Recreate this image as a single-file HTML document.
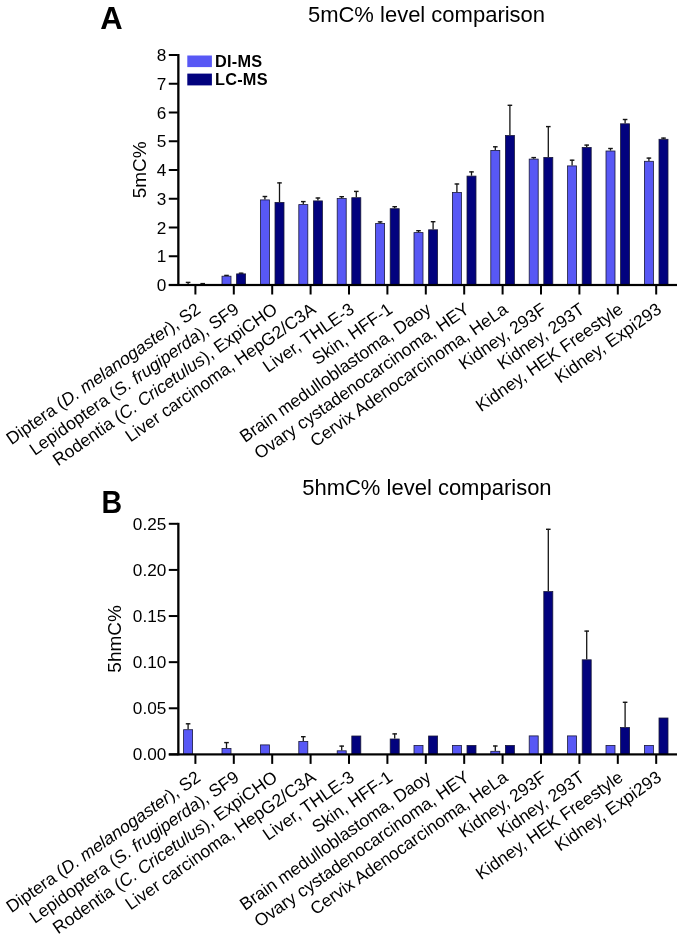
<!DOCTYPE html>
<html><head><meta charset="utf-8"><style>
html,body{margin:0;padding:0;background:#fff;overflow:hidden;width:683px;height:939px;}
svg{display:block;font-family:"Liberation Sans",sans-serif;will-change:transform;}
</style></head><body>
<svg width="683" height="939" viewBox="0 0 683 939">
<rect width="683" height="939" fill="#fff"/>
<text x="100.20" y="28.70" font-size="31" text-anchor="start" font-weight="bold" >A</text>
<text x="426.50" y="21.70" font-size="22" text-anchor="middle" font-weight="normal" >5mC% level comparison</text>
<rect x="187.45" y="282.00" width="1.30" height="3.00" fill="#151515" />
<rect x="185.80" y="281.70" width="4.60" height="1.40" fill="#151515" />
<rect x="202.05" y="283.20" width="1.30" height="1.80" fill="#151515" />
<rect x="200.40" y="282.90" width="4.60" height="1.40" fill="#151515" />
<rect x="225.85" y="275.00" width="1.30" height="0.80" fill="#151515" />
<rect x="224.20" y="274.70" width="4.60" height="1.40" fill="#151515" />
<rect x="222.00" y="276.20" width="9.00" height="8.80" fill="#5858F5" stroke="#1a1a3a" stroke-width="0.8"/>
<rect x="240.45" y="272.80" width="1.30" height="0.70" fill="#151515" />
<rect x="238.80" y="272.50" width="4.60" height="1.40" fill="#151515" />
<rect x="236.60" y="273.90" width="9.00" height="11.10" fill="#02027E" stroke="#1a1a3a" stroke-width="0.8"/>
<rect x="264.25" y="196.10" width="1.30" height="3.40" fill="#151515" />
<rect x="262.60" y="195.80" width="4.60" height="1.40" fill="#151515" />
<rect x="260.40" y="199.90" width="9.00" height="85.10" fill="#5858F5" stroke="#1a1a3a" stroke-width="0.8"/>
<rect x="278.85" y="182.50" width="1.30" height="19.50" fill="#151515" />
<rect x="277.20" y="182.20" width="4.60" height="1.40" fill="#151515" />
<rect x="275.00" y="202.40" width="9.00" height="82.60" fill="#02027E" stroke="#1a1a3a" stroke-width="0.8"/>
<rect x="302.65" y="201.20" width="1.30" height="3.00" fill="#151515" />
<rect x="301.00" y="200.90" width="4.60" height="1.40" fill="#151515" />
<rect x="298.80" y="204.60" width="9.00" height="80.40" fill="#5858F5" stroke="#1a1a3a" stroke-width="0.8"/>
<rect x="317.25" y="197.60" width="1.30" height="2.90" fill="#151515" />
<rect x="315.60" y="197.30" width="4.60" height="1.40" fill="#151515" />
<rect x="313.40" y="200.90" width="9.00" height="84.10" fill="#02027E" stroke="#1a1a3a" stroke-width="0.8"/>
<rect x="341.05" y="196.30" width="1.30" height="1.80" fill="#151515" />
<rect x="339.40" y="196.00" width="4.60" height="1.40" fill="#151515" />
<rect x="337.20" y="198.50" width="9.00" height="86.50" fill="#5858F5" stroke="#1a1a3a" stroke-width="0.8"/>
<rect x="355.65" y="191.00" width="1.30" height="6.30" fill="#151515" />
<rect x="354.00" y="190.70" width="4.60" height="1.40" fill="#151515" />
<rect x="351.80" y="197.70" width="9.00" height="87.30" fill="#02027E" stroke="#1a1a3a" stroke-width="0.8"/>
<rect x="379.45" y="221.50" width="1.30" height="1.50" fill="#151515" />
<rect x="377.80" y="221.20" width="4.60" height="1.40" fill="#151515" />
<rect x="375.60" y="223.40" width="9.00" height="61.60" fill="#5858F5" stroke="#1a1a3a" stroke-width="0.8"/>
<rect x="394.05" y="206.30" width="1.30" height="2.00" fill="#151515" />
<rect x="392.40" y="206.00" width="4.60" height="1.40" fill="#151515" />
<rect x="390.20" y="208.70" width="9.00" height="76.30" fill="#02027E" stroke="#1a1a3a" stroke-width="0.8"/>
<rect x="417.85" y="230.30" width="1.30" height="1.90" fill="#151515" />
<rect x="416.20" y="230.00" width="4.60" height="1.40" fill="#151515" />
<rect x="414.00" y="232.60" width="9.00" height="52.40" fill="#5858F5" stroke="#1a1a3a" stroke-width="0.8"/>
<rect x="432.45" y="221.30" width="1.30" height="8.10" fill="#151515" />
<rect x="430.80" y="221.00" width="4.60" height="1.40" fill="#151515" />
<rect x="428.60" y="229.80" width="9.00" height="55.20" fill="#02027E" stroke="#1a1a3a" stroke-width="0.8"/>
<rect x="456.25" y="183.60" width="1.30" height="8.50" fill="#151515" />
<rect x="454.60" y="183.30" width="4.60" height="1.40" fill="#151515" />
<rect x="452.40" y="192.50" width="9.00" height="92.50" fill="#5858F5" stroke="#1a1a3a" stroke-width="0.8"/>
<rect x="470.85" y="171.50" width="1.30" height="4.20" fill="#151515" />
<rect x="469.20" y="171.20" width="4.60" height="1.40" fill="#151515" />
<rect x="467.00" y="176.10" width="9.00" height="108.90" fill="#02027E" stroke="#1a1a3a" stroke-width="0.8"/>
<rect x="494.65" y="146.40" width="1.30" height="3.60" fill="#151515" />
<rect x="493.00" y="146.10" width="4.60" height="1.40" fill="#151515" />
<rect x="490.80" y="150.40" width="9.00" height="134.60" fill="#5858F5" stroke="#1a1a3a" stroke-width="0.8"/>
<rect x="509.25" y="104.90" width="1.30" height="30.20" fill="#151515" />
<rect x="507.60" y="104.60" width="4.60" height="1.40" fill="#151515" />
<rect x="505.40" y="135.50" width="9.00" height="149.50" fill="#02027E" stroke="#1a1a3a" stroke-width="0.8"/>
<rect x="533.05" y="157.20" width="1.30" height="1.50" fill="#151515" />
<rect x="531.40" y="156.90" width="4.60" height="1.40" fill="#151515" />
<rect x="529.20" y="159.10" width="9.00" height="125.90" fill="#5858F5" stroke="#1a1a3a" stroke-width="0.8"/>
<rect x="547.65" y="126.20" width="1.30" height="30.80" fill="#151515" />
<rect x="546.00" y="125.90" width="4.60" height="1.40" fill="#151515" />
<rect x="543.80" y="157.40" width="9.00" height="127.60" fill="#02027E" stroke="#1a1a3a" stroke-width="0.8"/>
<rect x="571.45" y="159.80" width="1.30" height="5.70" fill="#151515" />
<rect x="569.80" y="159.50" width="4.60" height="1.40" fill="#151515" />
<rect x="567.60" y="165.90" width="9.00" height="119.10" fill="#5858F5" stroke="#1a1a3a" stroke-width="0.8"/>
<rect x="586.05" y="144.70" width="1.30" height="2.30" fill="#151515" />
<rect x="584.40" y="144.40" width="4.60" height="1.40" fill="#151515" />
<rect x="582.20" y="147.40" width="9.00" height="137.60" fill="#02027E" stroke="#1a1a3a" stroke-width="0.8"/>
<rect x="609.85" y="148.10" width="1.30" height="2.50" fill="#151515" />
<rect x="608.20" y="147.80" width="4.60" height="1.40" fill="#151515" />
<rect x="606.00" y="151.00" width="9.00" height="134.00" fill="#5858F5" stroke="#1a1a3a" stroke-width="0.8"/>
<rect x="624.45" y="119.10" width="1.30" height="4.30" fill="#151515" />
<rect x="622.80" y="118.80" width="4.60" height="1.40" fill="#151515" />
<rect x="620.60" y="123.80" width="9.00" height="161.20" fill="#02027E" stroke="#1a1a3a" stroke-width="0.8"/>
<rect x="648.25" y="157.70" width="1.30" height="3.20" fill="#151515" />
<rect x="646.60" y="157.40" width="4.60" height="1.40" fill="#151515" />
<rect x="644.40" y="161.30" width="9.00" height="123.70" fill="#5858F5" stroke="#1a1a3a" stroke-width="0.8"/>
<rect x="662.85" y="137.70" width="1.30" height="1.20" fill="#151515" />
<rect x="661.20" y="137.40" width="4.60" height="1.40" fill="#151515" />
<rect x="659.00" y="139.30" width="9.00" height="145.70" fill="#02027E" stroke="#1a1a3a" stroke-width="0.8"/>
<rect x="177.20" y="54.00" width="2.30" height="232.00" fill="#000" />
<rect x="168.80" y="284.00" width="9.00" height="2.00" fill="#000" />
<text x="166.30" y="291.00" font-size="17.2" text-anchor="end" font-weight="normal" >0</text>
<rect x="168.80" y="255.25" width="9.00" height="2.00" fill="#000" />
<text x="166.30" y="262.25" font-size="17.2" text-anchor="end" font-weight="normal" >1</text>
<rect x="168.80" y="226.50" width="9.00" height="2.00" fill="#000" />
<text x="166.30" y="233.50" font-size="17.2" text-anchor="end" font-weight="normal" >2</text>
<rect x="168.80" y="197.75" width="9.00" height="2.00" fill="#000" />
<text x="166.30" y="204.75" font-size="17.2" text-anchor="end" font-weight="normal" >3</text>
<rect x="168.80" y="169.00" width="9.00" height="2.00" fill="#000" />
<text x="166.30" y="176.00" font-size="17.2" text-anchor="end" font-weight="normal" >4</text>
<rect x="168.80" y="140.25" width="9.00" height="2.00" fill="#000" />
<text x="166.30" y="147.25" font-size="17.2" text-anchor="end" font-weight="normal" >5</text>
<rect x="168.80" y="111.50" width="9.00" height="2.00" fill="#000" />
<text x="166.30" y="118.50" font-size="17.2" text-anchor="end" font-weight="normal" >6</text>
<rect x="168.80" y="82.75" width="9.00" height="2.00" fill="#000" />
<text x="166.30" y="89.75" font-size="17.2" text-anchor="end" font-weight="normal" >7</text>
<rect x="168.80" y="54.00" width="9.00" height="2.00" fill="#000" />
<text x="166.30" y="61.00" font-size="17.2" text-anchor="end" font-weight="normal" >8</text>
<rect x="168.80" y="283.90" width="508.20" height="2.20" fill="#000" />
<rect x="194.40" y="285.00" width="2.00" height="9.50" fill="#000" />
<rect x="232.80" y="285.00" width="2.00" height="9.50" fill="#000" />
<rect x="271.20" y="285.00" width="2.00" height="9.50" fill="#000" />
<rect x="309.60" y="285.00" width="2.00" height="9.50" fill="#000" />
<rect x="348.00" y="285.00" width="2.00" height="9.50" fill="#000" />
<rect x="386.40" y="285.00" width="2.00" height="9.50" fill="#000" />
<rect x="424.80" y="285.00" width="2.00" height="9.50" fill="#000" />
<rect x="463.20" y="285.00" width="2.00" height="9.50" fill="#000" />
<rect x="501.60" y="285.00" width="2.00" height="9.50" fill="#000" />
<rect x="540.00" y="285.00" width="2.00" height="9.50" fill="#000" />
<rect x="578.40" y="285.00" width="2.00" height="9.50" fill="#000" />
<rect x="616.80" y="285.00" width="2.00" height="9.50" fill="#000" />
<rect x="655.20" y="285.00" width="2.00" height="9.50" fill="#000" />
<text x="0" y="0" font-size="19" text-anchor="middle" transform="translate(145.9 169.8) rotate(-90)">5mC%</text>
<rect x="187.30" y="55.50" width="24.60" height="11.60" fill="#5858F5" />
<rect x="187.30" y="73.60" width="24.60" height="11.80" fill="#02027E" />
<text x="215.00" y="66.80" font-size="16.3" text-anchor="start" font-weight="bold" letter-spacing="0.25">DI-MS</text>
<text x="215.00" y="85.30" font-size="16.3" text-anchor="start" font-weight="bold" letter-spacing="0.25">LC-MS</text>
<text x="198.40" y="307.00" font-size="17.5" text-anchor="end" dominant-baseline="central" transform="rotate(-35.0 198.40 307.00)">Diptera (<tspan font-style="italic">D. melanogaster</tspan>), S2</text>
<text x="236.80" y="307.00" font-size="17.5" text-anchor="end" dominant-baseline="central" transform="rotate(-35.0 236.80 307.00)">Lepidoptera (<tspan font-style="italic">S. frugiperda</tspan>), SF9</text>
<text x="275.20" y="307.00" font-size="17.5" text-anchor="end" dominant-baseline="central" transform="rotate(-35.0 275.20 307.00)">Rodentia (<tspan font-style="italic">C. Cricetulus</tspan>), ExpiCHO</text>
<text x="313.60" y="307.00" font-size="17.5" text-anchor="end" dominant-baseline="central" transform="rotate(-35.0 313.60 307.00)">Liver carcinoma, HepG2/C3A</text>
<text x="352.00" y="307.00" font-size="17.5" text-anchor="end" dominant-baseline="central" transform="rotate(-35.0 352.00 307.00)">Liver, THLE-3</text>
<text x="390.40" y="307.00" font-size="17.5" text-anchor="end" dominant-baseline="central" transform="rotate(-35.0 390.40 307.00)">Skin, HFF-1</text>
<text x="428.80" y="307.00" font-size="17.5" text-anchor="end" dominant-baseline="central" transform="rotate(-35.0 428.80 307.00)">Brain medulloblastoma, Daoy</text>
<text x="467.20" y="307.00" font-size="17.5" text-anchor="end" dominant-baseline="central" transform="rotate(-35.0 467.20 307.00)">Ovary cystadenocarcinoma, HEY</text>
<text x="505.60" y="307.00" font-size="17.5" text-anchor="end" dominant-baseline="central" transform="rotate(-35.0 505.60 307.00)">Cervix Adenocarcinoma, HeLa</text>
<text x="544.00" y="307.00" font-size="17.5" text-anchor="end" dominant-baseline="central" transform="rotate(-35.0 544.00 307.00)">Kidney, 293F</text>
<text x="582.40" y="307.00" font-size="17.5" text-anchor="end" dominant-baseline="central" transform="rotate(-35.0 582.40 307.00)">Kidney, 293T</text>
<text x="620.80" y="307.00" font-size="17.5" text-anchor="end" dominant-baseline="central" transform="rotate(-35.0 620.80 307.00)">Kidney, HEK Freestyle</text>
<text x="659.20" y="307.00" font-size="17.5" text-anchor="end" dominant-baseline="central" transform="rotate(-35.0 659.20 307.00)">Kidney, Expi293</text>
<text x="0" y="0" font-size="31" font-weight="bold" transform="translate(101.5 512.5) scale(0.92 1)">B</text>
<text x="426.90" y="494.80" font-size="22" text-anchor="middle" font-weight="normal" >5hmC% level comparison</text>
<rect x="187.45" y="723.40" width="1.30" height="5.90" fill="#151515" />
<rect x="185.80" y="723.10" width="4.60" height="1.40" fill="#151515" />
<rect x="183.60" y="729.70" width="9.00" height="24.70" fill="#5858F5" stroke="#1a1a3a" stroke-width="0.8"/>
<rect x="225.85" y="742.20" width="1.30" height="5.80" fill="#151515" />
<rect x="224.20" y="741.90" width="4.60" height="1.40" fill="#151515" />
<rect x="222.00" y="748.40" width="9.00" height="6.00" fill="#5858F5" stroke="#1a1a3a" stroke-width="0.8"/>
<rect x="260.40" y="744.90" width="9.00" height="9.50" fill="#5858F5" stroke="#1a1a3a" stroke-width="0.8"/>
<rect x="302.65" y="736.30" width="1.30" height="4.70" fill="#151515" />
<rect x="301.00" y="736.00" width="4.60" height="1.40" fill="#151515" />
<rect x="298.80" y="741.40" width="9.00" height="13.00" fill="#5858F5" stroke="#1a1a3a" stroke-width="0.8"/>
<rect x="341.05" y="745.70" width="1.30" height="4.70" fill="#151515" />
<rect x="339.40" y="745.40" width="4.60" height="1.40" fill="#151515" />
<rect x="337.20" y="750.80" width="9.00" height="3.60" fill="#5858F5" stroke="#1a1a3a" stroke-width="0.8"/>
<rect x="351.80" y="736.00" width="9.00" height="18.40" fill="#02027E" stroke="#1a1a3a" stroke-width="0.8"/>
<rect x="394.05" y="733.50" width="1.30" height="5.10" fill="#151515" />
<rect x="392.40" y="733.20" width="4.60" height="1.40" fill="#151515" />
<rect x="390.20" y="739.00" width="9.00" height="15.40" fill="#02027E" stroke="#1a1a3a" stroke-width="0.8"/>
<rect x="414.00" y="745.40" width="9.00" height="9.00" fill="#5858F5" stroke="#1a1a3a" stroke-width="0.8"/>
<rect x="428.60" y="736.00" width="9.00" height="18.40" fill="#02027E" stroke="#1a1a3a" stroke-width="0.8"/>
<rect x="452.40" y="745.40" width="9.00" height="9.00" fill="#5858F5" stroke="#1a1a3a" stroke-width="0.8"/>
<rect x="467.00" y="745.40" width="9.00" height="9.00" fill="#02027E" stroke="#1a1a3a" stroke-width="0.8"/>
<rect x="494.65" y="745.60" width="1.30" height="5.30" fill="#151515" />
<rect x="493.00" y="745.30" width="4.60" height="1.40" fill="#151515" />
<rect x="490.80" y="751.30" width="9.00" height="3.10" fill="#5858F5" stroke="#1a1a3a" stroke-width="0.8"/>
<rect x="505.40" y="745.40" width="9.00" height="9.00" fill="#02027E" stroke="#1a1a3a" stroke-width="0.8"/>
<rect x="529.20" y="735.90" width="9.00" height="18.50" fill="#5858F5" stroke="#1a1a3a" stroke-width="0.8"/>
<rect x="547.65" y="528.90" width="1.30" height="62.30" fill="#151515" />
<rect x="546.00" y="528.60" width="4.60" height="1.40" fill="#151515" />
<rect x="543.80" y="591.60" width="9.00" height="162.80" fill="#02027E" stroke="#1a1a3a" stroke-width="0.8"/>
<rect x="567.60" y="735.90" width="9.00" height="18.50" fill="#5858F5" stroke="#1a1a3a" stroke-width="0.8"/>
<rect x="586.05" y="630.70" width="1.30" height="28.70" fill="#151515" />
<rect x="584.40" y="630.40" width="4.60" height="1.40" fill="#151515" />
<rect x="582.20" y="659.80" width="9.00" height="94.60" fill="#02027E" stroke="#1a1a3a" stroke-width="0.8"/>
<rect x="606.00" y="745.40" width="9.00" height="9.00" fill="#5858F5" stroke="#1a1a3a" stroke-width="0.8"/>
<rect x="624.45" y="701.90" width="1.30" height="25.20" fill="#151515" />
<rect x="622.80" y="701.60" width="4.60" height="1.40" fill="#151515" />
<rect x="620.60" y="727.50" width="9.00" height="26.90" fill="#02027E" stroke="#1a1a3a" stroke-width="0.8"/>
<rect x="644.40" y="745.40" width="9.00" height="9.00" fill="#5858F5" stroke="#1a1a3a" stroke-width="0.8"/>
<rect x="659.00" y="718.00" width="9.00" height="36.40" fill="#02027E" stroke="#1a1a3a" stroke-width="0.8"/>
<rect x="177.20" y="522.80" width="2.30" height="232.60" fill="#000" />
<rect x="168.80" y="753.40" width="9.00" height="2.00" fill="#000" />
<text x="166.30" y="760.40" font-size="17.2" text-anchor="end" font-weight="normal" >0.00</text>
<rect x="168.80" y="707.28" width="9.00" height="2.00" fill="#000" />
<text x="166.30" y="714.28" font-size="17.2" text-anchor="end" font-weight="normal" >0.05</text>
<rect x="168.80" y="661.16" width="9.00" height="2.00" fill="#000" />
<text x="166.30" y="668.16" font-size="17.2" text-anchor="end" font-weight="normal" >0.10</text>
<rect x="168.80" y="615.04" width="9.00" height="2.00" fill="#000" />
<text x="166.30" y="622.04" font-size="17.2" text-anchor="end" font-weight="normal" >0.15</text>
<rect x="168.80" y="568.92" width="9.00" height="2.00" fill="#000" />
<text x="166.30" y="575.92" font-size="17.2" text-anchor="end" font-weight="normal" >0.20</text>
<rect x="168.80" y="522.80" width="9.00" height="2.00" fill="#000" />
<text x="166.30" y="529.80" font-size="17.2" text-anchor="end" font-weight="normal" >0.25</text>
<rect x="168.80" y="753.30" width="508.20" height="2.20" fill="#000" />
<rect x="194.40" y="754.40" width="2.00" height="9.50" fill="#000" />
<rect x="232.80" y="754.40" width="2.00" height="9.50" fill="#000" />
<rect x="271.20" y="754.40" width="2.00" height="9.50" fill="#000" />
<rect x="309.60" y="754.40" width="2.00" height="9.50" fill="#000" />
<rect x="348.00" y="754.40" width="2.00" height="9.50" fill="#000" />
<rect x="386.40" y="754.40" width="2.00" height="9.50" fill="#000" />
<rect x="424.80" y="754.40" width="2.00" height="9.50" fill="#000" />
<rect x="463.20" y="754.40" width="2.00" height="9.50" fill="#000" />
<rect x="501.60" y="754.40" width="2.00" height="9.50" fill="#000" />
<rect x="540.00" y="754.40" width="2.00" height="9.50" fill="#000" />
<rect x="578.40" y="754.40" width="2.00" height="9.50" fill="#000" />
<rect x="616.80" y="754.40" width="2.00" height="9.50" fill="#000" />
<rect x="655.20" y="754.40" width="2.00" height="9.50" fill="#000" />
<text x="0" y="0" font-size="19" text-anchor="middle" transform="translate(121.1 638.9) rotate(-90)">5hmC%</text>
<text x="198.40" y="775.00" font-size="17.5" text-anchor="end" dominant-baseline="central" transform="rotate(-35.0 198.40 775.00)">Diptera (<tspan font-style="italic">D. melanogaster</tspan>), S2</text>
<text x="236.80" y="775.00" font-size="17.5" text-anchor="end" dominant-baseline="central" transform="rotate(-35.0 236.80 775.00)">Lepidoptera (<tspan font-style="italic">S. frugiperda</tspan>), SF9</text>
<text x="275.20" y="775.00" font-size="17.5" text-anchor="end" dominant-baseline="central" transform="rotate(-35.0 275.20 775.00)">Rodentia (<tspan font-style="italic">C. Cricetulus</tspan>), ExpiCHO</text>
<text x="313.60" y="775.00" font-size="17.5" text-anchor="end" dominant-baseline="central" transform="rotate(-35.0 313.60 775.00)">Liver carcinoma, HepG2/C3A</text>
<text x="352.00" y="775.00" font-size="17.5" text-anchor="end" dominant-baseline="central" transform="rotate(-35.0 352.00 775.00)">Liver, THLE-3</text>
<text x="390.40" y="775.00" font-size="17.5" text-anchor="end" dominant-baseline="central" transform="rotate(-35.0 390.40 775.00)">Skin, HFF-1</text>
<text x="428.80" y="775.00" font-size="17.5" text-anchor="end" dominant-baseline="central" transform="rotate(-35.0 428.80 775.00)">Brain medulloblastoma, Daoy</text>
<text x="467.20" y="775.00" font-size="17.5" text-anchor="end" dominant-baseline="central" transform="rotate(-35.0 467.20 775.00)">Ovary cystadenocarcinoma, HEY</text>
<text x="505.60" y="775.00" font-size="17.5" text-anchor="end" dominant-baseline="central" transform="rotate(-35.0 505.60 775.00)">Cervix Adenocarcinoma, HeLa</text>
<text x="544.00" y="775.00" font-size="17.5" text-anchor="end" dominant-baseline="central" transform="rotate(-35.0 544.00 775.00)">Kidney, 293F</text>
<text x="582.40" y="775.00" font-size="17.5" text-anchor="end" dominant-baseline="central" transform="rotate(-35.0 582.40 775.00)">Kidney, 293T</text>
<text x="620.80" y="775.00" font-size="17.5" text-anchor="end" dominant-baseline="central" transform="rotate(-35.0 620.80 775.00)">Kidney, HEK Freestyle</text>
<text x="659.20" y="775.00" font-size="17.5" text-anchor="end" dominant-baseline="central" transform="rotate(-35.0 659.20 775.00)">Kidney, Expi293</text>
</svg>
</body></html>
